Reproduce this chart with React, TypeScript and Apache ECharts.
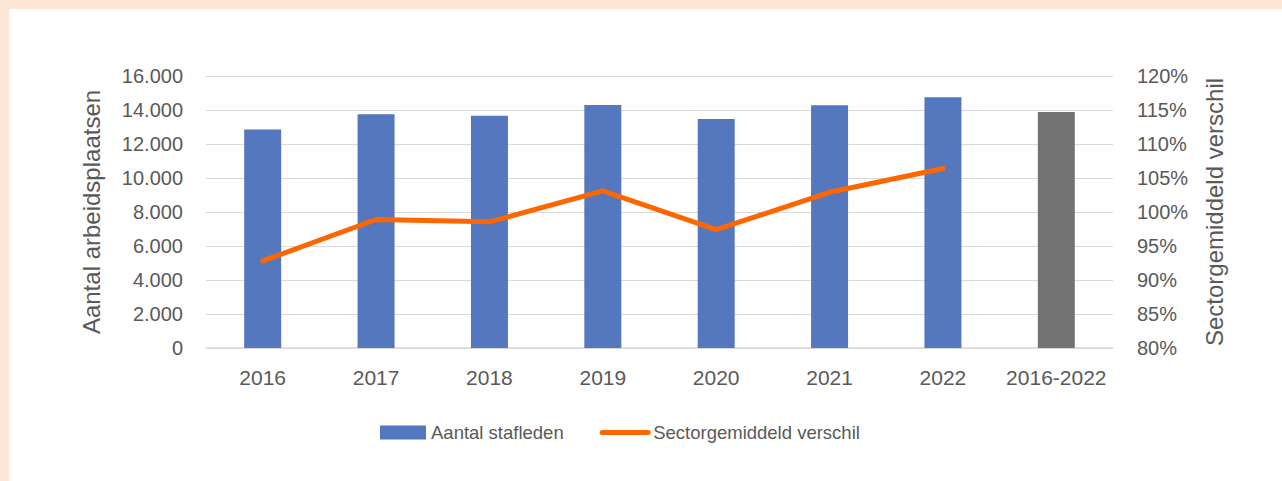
import React, { useEffect, useRef } from "react";
import * as echarts from "echarts";

const categories = ["2016", "2017", "2018", "2019", "2020", "2021", "2022", "2016-2022"];
const staffValues = [12860, 13750, 13660, 14290, 13470, 14280, 14750, 13880];
const sectorDiff = [92.8, 98.9, 98.55, 103.1, 97.4, 102.9, 106.4, null];
const leftTicks = { min: 0, max: 16000, interval: 2000 };
const rightTicks = { min: 80, max: 120, interval: 5 };

const BLUE = "#5577BD";
const GRAY = "#737373";
const ORANGE = "#FF6600";
const TEXT = "#595959";
const FONT = "Liberation Sans";

export default function App() {
  const ref = useRef<HTMLDivElement>(null);
  useEffect(() => {
    if (!ref.current) return;
    const chart = echarts.init(ref.current, null, { renderer: "svg" });
    chart.setOption({
      animation: false,
      backgroundColor: "#ffffff",
      textStyle: { fontFamily: FONT, color: TEXT },
      grid: { left: 197, right: 169, top: 67, bottom: 133 },
      legend: {
        left: 371,
        top: 414,
        padding: 0,
        itemWidth: 46,
        itemHeight: 14,
        itemGap: 36,
        textStyle: { fontFamily: FONT, fontSize: 18.5, color: TEXT },
        data: [
          { name: "Aantal stafleden", icon: "rect" },
          {
            name: "Sectorgemiddeld verschil",
            itemStyle: { opacity: 0 },
            lineStyle: { width: 5, color: ORANGE, cap: "round" },
          },
        ],
      },
      xAxis: {
        type: "category",
        data: categories,
        axisLine: { lineStyle: { color: "#D9D9D9", width: 1.5 } },
        axisTick: { show: false },
        axisLabel: { color: TEXT, fontSize: 21, fontFamily: FONT, margin: 19, interval: 0 },
      },
      yAxis: [
        {
          type: "value",
          ...leftTicks,
          name: "Aantal arbeidsplaatsen",
          nameLocation: "middle",
          nameRotate: 90,
          nameGap: 103,
          nameTextStyle: { fontSize: 24, color: TEXT, fontFamily: FONT },
          axisLabel: {
            color: TEXT,
            fontSize: 20,
            fontFamily: FONT,
            margin: 23,
            formatter: (v: number) => v.toLocaleString("nl-NL"),
          },
          splitLine: { lineStyle: { color: "#D9D9D9", width: 1 } },
          axisLine: { show: false },
          axisTick: { show: false },
        },
        {
          type: "value",
          ...rightTicks,
          name: "Sectorgemiddeld verschil",
          nameLocation: "middle",
          nameRotate: 90,
          nameGap: 89,
          nameTextStyle: { fontSize: 24, color: TEXT, fontFamily: FONT },
          axisLabel: {
            color: TEXT,
            fontSize: 20,
            fontFamily: FONT,
            margin: 24,
            formatter: (v: number) => v + "%",
          },
          splitLine: { show: false },
          axisLine: { show: false },
          axisTick: { show: false },
        },
      ],
      series: [
        {
          name: "Aantal stafleden",
          type: "bar",
          barWidth: 37,
          itemStyle: { color: BLUE },
          data: staffValues.map((v, i) =>
            i === staffValues.length - 1 ? { value: v, itemStyle: { color: GRAY } } : v
          ),
        },
        {
          name: "Sectorgemiddeld verschil",
          type: "line",
          yAxisIndex: 1,
          symbol: "none",
          connectNulls: false,
          itemStyle: { color: ORANGE },
          lineStyle: { color: ORANGE, width: 5, cap: "round", join: "round" },
          data: sectorDiff,
        },
      ],
    });
    return () => chart.dispose();
  }, []);
  return (
    <div
      style={{
        position: "fixed",
        left: 0,
        top: 0,
        width: 1282,
        height: 481,
        background: "#FEE6D6",
      }}
    >
      <div
        ref={ref}
        style={{ position: "absolute", left: 9, top: 9, width: 1273, height: 472 }}
      />
    </div>
  );
}
